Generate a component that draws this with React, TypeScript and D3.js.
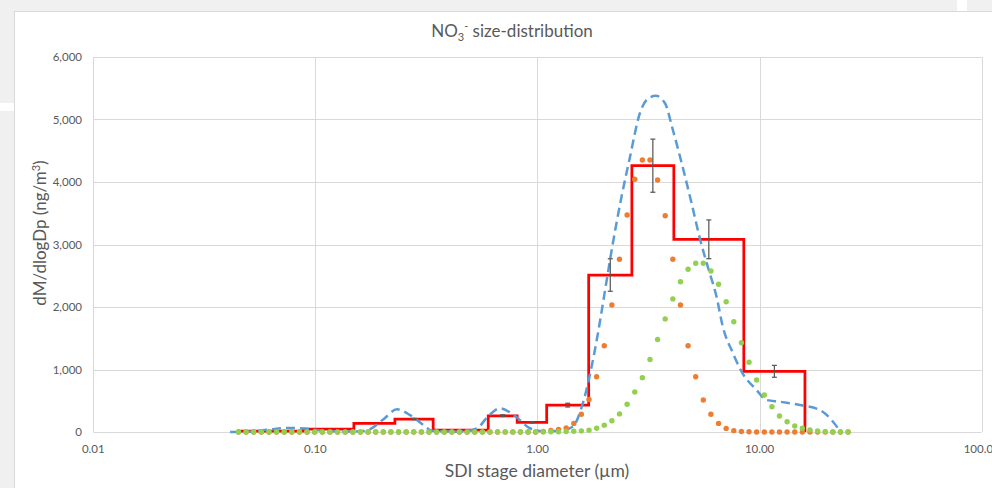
import React, { useEffect, useRef } from 'react';
import * as d3 from 'd3';

// SDI stage bins (µm) with measured dM/dlogDp and its error
const stageEdges = [0.0444, 0.088, 0.149, 0.228, 0.339, 0.60, 0.81, 1.10, 1.70, 2.66, 4.11, 8.49, 16.0];
const stageValues = [15, 45, 139, 208, 30, 260, 155, 430, 2512, 4261, 3083, 971];
const stageErrors = [0, 0, 0, 10, 0, 15, 10, 30, 260, 425, 310, 95];

// fitted total distribution (dashed)
const fitDiam = [0.0413, 0.05, 0.062, 0.075, 0.09, 0.105, 0.13, 0.155, 0.173, 0.202, 0.233, 0.267, 0.302, 0.335,
  0.448, 0.534, 0.599, 0.678, 0.792, 0.925, 1.08, 1.26, 1.44, 1.60, 1.81, 2.05, 2.12, 2.39, 2.61, 2.89, 3.10, 3.41,
  3.75, 4.07, 4.46, 4.94, 5.38, 5.87, 6.40, 6.83, 7.58, 8.30, 9.69, 10.75, 12.3, 15.2, 18.7, 21.4, 22.5];
const fitValues = [0, 5, 40, 65, 55, 25, 8, 10, 35, 200, 363, 270, 128, 20,
  5, 60, 250, 380, 256, 60, 10, 20, 85, 460, 1300, 2432, 2750, 3765, 4405, 5100, 5312, 5380,
  5260, 4832, 4300, 3660, 3100, 2620, 2165, 1685, 1264, 965, 672, 512, 485, 432, 352, 165, 64];

// modal fits, both sampled on the same diameter grid (µm)
const modeDiam = [
  0.04505, 0.04875, 0.05276, 0.05710, 0.06180, 0.06688, 0.07238, 0.07833, 0.08477, 0.09174,
  0.09928, 0.1074, 0.1163, 0.1258, 0.1362, 0.1474, 0.1595, 0.1726, 0.1868, 0.2021,
  0.2187, 0.2367, 0.2562, 0.2772, 0.3000, 0.3247, 0.3514, 0.3803, 0.4115, 0.4454,
  0.4820, 0.5216, 0.5645, 0.6109, 0.6612, 0.7155, 0.7744, 0.8381, 0.9068, 0.9813,
  1.062, 1.149, 1.244, 1.346, 1.457, 1.576, 1.706, 1.846, 1.998, 2.162,
  2.340, 2.532, 2.741, 2.966, 3.210, 3.473, 3.758, 4.068, 4.402, 4.764,
  5.156, 5.579, 6.038, 6.535, 7.071, 7.653, 8.282, 8.962, 9.698, 10.50,
  11.36, 12.29, 13.30, 14.40, 15.58, 16.86, 18.25, 19.75, 21.37, 23.13,
  25.03];
const mode1Values = [
  0, 0, 0, 0, 0, 0, 0, 0, 0, 0,
  0, 0, 0, 0, 0, 0, 0, 0, 0, 0,
  0, 0, 0, 0, 0, 0, 0, 0, 0, 0,
  0, 0, 0, 0, 0, 0, 0, 0, 0, 0,
  10, 25, 40, 65, 138, 283, 520, 885, 1381, 2032,
  2763, 3472, 4043, 4352, 4352, 4032, 3461, 2763, 2032, 1381,
  885, 512, 283, 138, 58, 22, 8, 3, 0, 0,
  0, 0, 0, 0, 0, 0, 0, 0, 0, 0,
  0];
const mode2Values = [
  0, 0, 0, 0, 0, 0, 0, 0, 0, 0,
  0, 0, 0, 0, 0, 0, 0, 0, 0, 0,
  0, 0, 0, 0, 0, 0, 0, 0, 0, 0,
  0, 0, 0, 0, 0, 0, 0, 0, 0, 0,
  0, 3, 5, 8, 12, 18, 30, 60, 110, 180,
  290, 445, 640, 870, 1160, 1480, 1810, 2130, 2405, 2603,
  2699, 2699, 2576, 2363, 2085, 1765, 1429, 1115, 832, 592,
  405, 256, 165, 96, 59, 32, 16, 5, 0, 0,
  0];

const xTicks = [0.01, 0.1, 1, 10, 100];
const xTickLabels = ['0.01', '0.10', '1.00', '10.00', '100.00'];
const yTicks = [0, 1000, 2000, 3000, 4000, 5000, 6000];

const W = 992, H = 488;
const FONT = 'Lato, "Open Sans", sans-serif';
const TXT = '#595959';

export default function App() {
  const ref = useRef<SVGSVGElement>(null);

  useEffect(() => {
    const svg = d3.select(ref.current);
    svg.selectAll('*').remove();

    // background / chart frame
    svg.append('rect').attr('width', W).attr('height', H).attr('fill', '#f0f0f0');
    svg.append('rect').attr('x', 957).attr('y', 0).attr('width', 10).attr('height', 12).attr('fill', '#fff');
    svg.append('rect').attr('x', 0).attr('y', 103).attr('width', 14).attr('height', 8).attr('fill', '#fff');
    svg.append('rect').attr('x', 14.5).attr('y', 11.5).attr('width', 1000).attr('height', 500)
      .attr('fill', '#fff').attr('stroke', '#d9d9d9');

    var x = d3.scaleLog().domain([0.01, 100]).range([93.3, 981.7]);
    var y = d3.scaleLinear().domain([0, 6000]).range([432, 57]);

    // gridlines
    svg.append('g').selectAll('line').data(yTicks).join('line')
      .attr('x1', x(0.01)).attr('x2', x(100))
      .attr('y1', d => Math.round(y(d)) + 0.5).attr('y2', d => Math.round(y(d)) + 0.5)
      .attr('stroke', '#d9d9d9');
    svg.append('g').selectAll('line').data(xTicks).join('line')
      .attr('x1', d => Math.round(x(d)) + 0.5).attr('x2', d => Math.round(x(d)) + 0.5)
      .attr('y1', y(0)).attr('y2', y(6000))
      .attr('stroke', '#d9d9d9');

    // tick labels
    svg.append('g').selectAll('text').data(yTicks).join('text')
      .attr('x', 82).attr('y', d => y(d) + 4)
      .attr('text-anchor', 'end').attr('font-size', 11.5).attr('font-family', FONT).attr('fill', TXT)
      .text(d => d3.format(',')(d));
    svg.append('g').selectAll('text').data(xTicks).join('text')
      .attr('x', d => x(d)).attr('y', 453)
      .attr('text-anchor', 'middle').attr('font-size', 11.5).attr('font-family', FONT).attr('fill', TXT)
      .text((d, i) => xTickLabels[i]);

    // measured stages as a step line
    var steps: [number, number][] = [];
    stageValues.forEach((v, i) => {
      steps.push([stageEdges[i], v]);
      steps.push([stageEdges[i + 1], v]);
    });
    steps.push([stageEdges[stageEdges.length - 1], 0]);
    svg.append('path').datum(steps)
      .attr('d', d3.line<[number, number]>().x(d => x(d[0])).y(d => y(d[1])))
      .attr('fill', 'none').attr('stroke', '#ff0000').attr('stroke-width', 2.75)
      .attr('stroke-linejoin', 'miter');

    // fitted total, dashed
    var fit = fitDiam.map((d, i) => [d, fitValues[i]] as [number, number]);
    svg.append('path').datum(fit)
      .attr('d', d3.line<[number, number]>().x(d => x(d[0])).y(d => y(d[1])).curve(d3.curveMonotoneX))
      .attr('fill', 'none').attr('stroke', '#5b9bd5').attr('stroke-width', 2.5)
      .attr('stroke-dasharray', '9,5');

    // modes as dots
    svg.append('g').selectAll('circle').data(modeDiam).join('circle')
      .attr('cx', d => x(d)).attr('cy', (d, i) => y(mode1Values[i])).attr('r', 2.7)
      .attr('fill', '#ed7d31');
    svg.append('g').selectAll('circle').data(modeDiam).join('circle')
      .attr('cx', d => x(d)).attr('cy', (d, i) => y(mode2Values[i])).attr('r', 2.7)
      .attr('fill', '#92d050');

    // error bars at geometric bin centres
    var errs = stageValues.map((v, i) => ({
      d: Math.sqrt(stageEdges[i] * stageEdges[i + 1]), v, e: stageErrors[i]
    })).filter(o => o.e > 0);
    var eg = svg.append('g').attr('stroke', '#595959').attr('stroke-width', 1.25);
    errs.forEach(o => {
      var cx = x(o.d);
      eg.append('line').attr('x1', cx).attr('x2', cx).attr('y1', y(o.v + o.e)).attr('y2', y(o.v - o.e));
      eg.append('line').attr('x1', cx - 2.5).attr('x2', cx + 2.5).attr('y1', y(o.v + o.e)).attr('y2', y(o.v + o.e));
      eg.append('line').attr('x1', cx - 2.5).attr('x2', cx + 2.5).attr('y1', y(o.v - o.e)).attr('y2', y(o.v - o.e));
    });

    // title
    var t = svg.append('text').attr('x', 512).attr('y', 37).attr('text-anchor', 'middle')
      .attr('font-size', 17).attr('font-family', FONT).attr('fill', TXT);
    t.append('tspan').text('NO');
    t.append('tspan').attr('font-size', 11).attr('dy', 4).text('3');
    t.append('tspan').attr('font-size', 11).attr('dy', -11).text('-');
    t.append('tspan').attr('dy', 7).text(' size-distribution');

    // axis titles
    svg.append('text').attr('x', 537).attr('y', 477).attr('text-anchor', 'middle')
      .attr('font-size', 17.5).attr('font-family', FONT).attr('fill', TXT)
      .text('SDI stage diameter (µm)');
    var yt = svg.append('text').attr('transform', 'translate(46,233) rotate(-90)').attr('text-anchor', 'middle')
      .attr('font-size', 17).attr('font-family', FONT).attr('fill', TXT);
    yt.append('tspan').text('dM/dlogDp (ng/m');
    yt.append('tspan').attr('font-size', 11).attr('dy', -6).text('3');
    yt.append('tspan').attr('dy', 6).text(')');
  }, []);

  return (
    <svg ref={ref} width={W} height={H}
      style={{ position: 'absolute', left: 0, top: 0, display: 'block' }} />
  );
}
